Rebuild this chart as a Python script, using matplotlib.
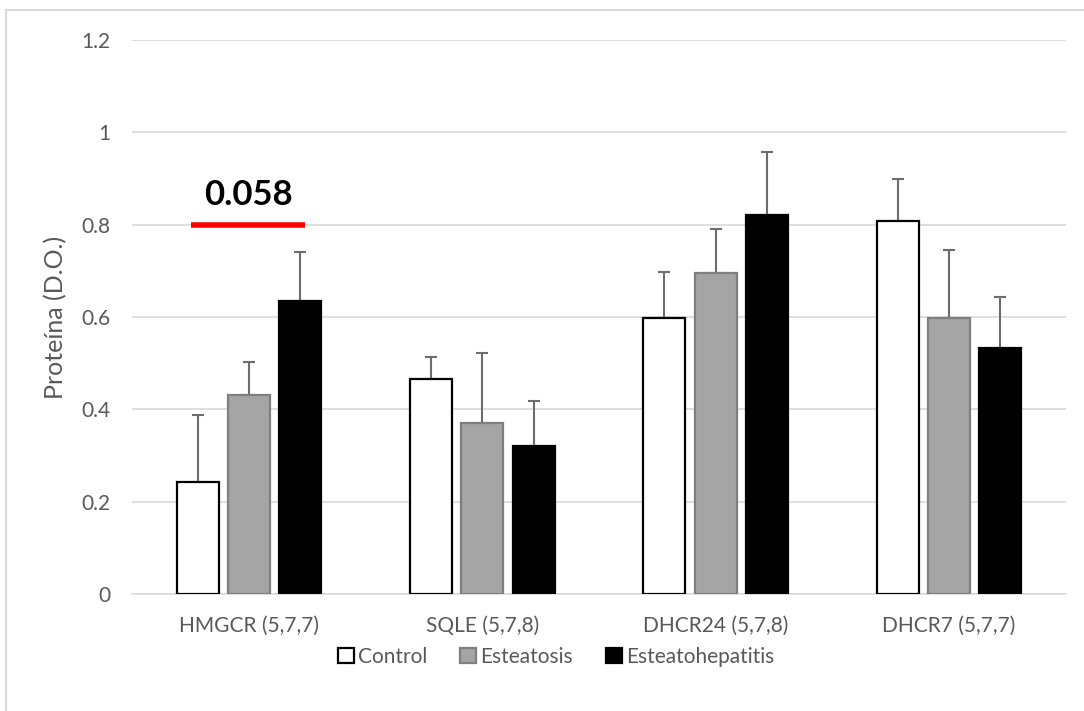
import numpy as np
import matplotlib
matplotlib.use("Agg")
import matplotlib.pyplot as plt
from matplotlib.patches import Patch
from matplotlib.lines import Line2D

plt.rcParams['font.family'] = ['Lato', 'DejaVu Sans']

# datos
genes = ["HMGCR (5,7,7)", "SQLE (5,7,8)", "DHCR24 (5,7,8)", "DHCR7 (5,7,7)"]
grupos = ["Control", "Esteatosis", "Esteatohepatitis"]
control = [0.243, 0.466, 0.598, 0.808]
control_err = [0.145, 0.048, 0.100, 0.091]
esteatosis = [0.431, 0.371, 0.695, 0.598]
esteatosis_err = [0.072, 0.151, 0.095, 0.147]
esteatohep = [0.635, 0.321, 0.821, 0.533]
esteatohep_err = [0.106, 0.097, 0.137, 0.110]
p_valor = "0.058"
p_nivel = 0.8

fig = plt.figure(figsize=(10.84, 7.11), dpi=100)
ax = fig.add_axes([0.122, 0.1646, 0.861, 0.7791])

x = np.arange(len(genes))
ancho = 0.18
paso = 0.22
estilos = [
    (control, control_err, "white", "black"),
    (esteatosis, esteatosis_err, "#a5a5a5", "#7f7f7f"),
    (esteatohep, esteatohep_err, "black", "black"),
]
for i, (vals, err, fc, ec) in enumerate(estilos):
    pos = x + (i - 1) * paso
    ax.bar(pos, vals, width=ancho, color=fc, edgecolor=ec, linewidth=1.6, zorder=3)
    ax.errorbar(pos, vals, yerr=[np.zeros(len(vals)), err], fmt="none",
                ecolor="#6d6d6d", elinewidth=1.5, capsize=4.5, capthick=1.5, zorder=2)

ax.set_xlim(-0.5, len(genes) - 0.5)
ax.set_ylim(0, 1.2)
ax.set_yticks(np.arange(0, 1.21, 0.2))
ax.set_yticklabels(["0", "0.2", "0.4", "0.6", "0.8", "1", "1.2"])
ax.set_xticks(x)
ax.set_xticklabels(genes)
ax.yaxis.grid(True, color="#d9d9d9", linewidth=1.2, zorder=0)
ax.set_axisbelow(True)
for s in ["top", "right", "left"]:
    ax.spines[s].set_visible(False)
ax.spines["bottom"].set_color("#d9d9d9")
ax.spines["bottom"].set_linewidth(1.2)
ax.tick_params(axis="both", length=0, labelsize=15, colors="#595959")
ax.tick_params(axis="x", pad=16)
ax.tick_params(axis="y", pad=16)
ax.set_ylabel("Proteína (D.O.)", fontsize=18, color="#595959", labelpad=10)

# línea de significación
ax.plot([x[0] - 0.25, x[0] + 0.24], [p_nivel, p_nivel], color="red", linewidth=4, zorder=4,
        solid_capstyle="butt")
ax.text(x[0], p_nivel + 0.03, p_valor, ha="center", va="bottom", fontsize=25,
        fontweight="bold", color="black")

handles = [Patch(facecolor=fc, edgecolor=ec, linewidth=1.6) for _, _, fc, ec in estilos]
leg = fig.legend(handles, grupos, loc="center", bbox_to_anchor=(0.513, 0.076), ncol=3,
                 frameon=False, fontsize=15, handlelength=0.75, handleheight=0.75,
                 handletextpad=0.2, columnspacing=1.6)
for t in leg.get_texts():
    t.set_color("#595959")

# borde del gráfico (solo arriba e izquierda visibles)
fig.add_artist(Line2D([6 / 1084, 1], [1 - 10 / 711, 1 - 10 / 711], color="#d9d9d9",
                      linewidth=1.5, transform=fig.transFigure))
fig.add_artist(Line2D([6 / 1084, 6 / 1084], [0, 1 - 10 / 711], color="#d9d9d9",
                      linewidth=1.5, transform=fig.transFigure))

fig.savefig("out.png", dpi=100)
